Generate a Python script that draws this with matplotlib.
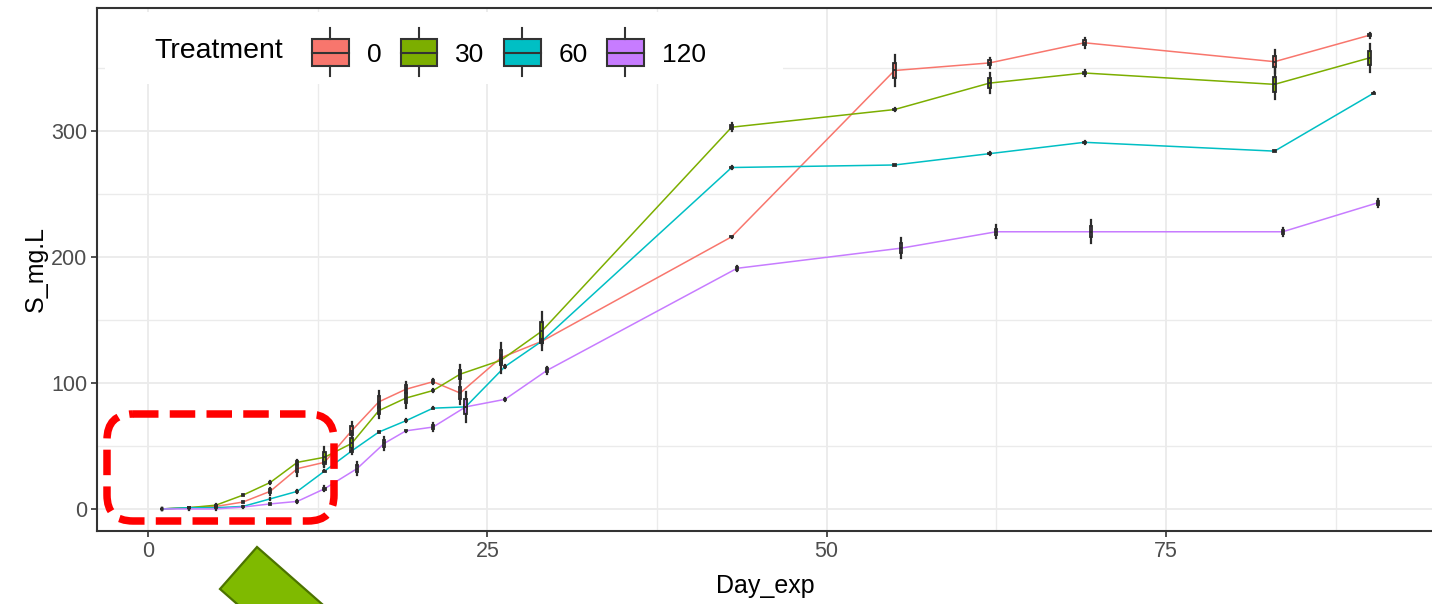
import numpy as np
import matplotlib.pyplot as plt
from matplotlib.patches import Rectangle, FancyBboxPatch, Polygon, Patch
from matplotlib.legend_handler import HandlerBase
from matplotlib.lines import Line2D
import matplotlib.transforms as mtransforms

plt.rcParams['font.family'] = ['Liberation Sans', 'DejaVu Sans']

# ── data ─────────────────────────────────────────────────────────────────────
treatments = ['0', '30', '60', '120']
colors = ['#F8766D', '#7CAE00', '#00BFC4', '#C77CFF']

day_0 = [1, 3, 5, 7, 9, 11, 13, 15, 17, 19, 21, 23, 26, 29, 43, 55, 62, 69, 83, 90]
day_30 = [1, 3, 5, 7, 9, 11, 13, 15, 17, 19, 21, 23, 26, 29, 43, 55, 62, 69, 83, 90]
day_60 = [1, 3, 5, 7, 9, 11, 13, 15, 17, 19, 21, 23.4, 26.3, 29, 43, 55, 62, 69, 83, 90.3]
day_120 = [1, 3, 5, 7, 9, 11, 13, 15.4, 17.4, 19, 21, 23.4, 26.3, 29.4, 43.4, 55.5, 62.5, 69.5, 83.6, 90.6]

s_0 = [0, 1, 2, 5.5, 14, 32, 37, 62, 85, 95, 101, 92, 120, 133, 216, 348, 354, 370, 355, 376]
s_30 = [0, 1, 3, 11, 21, 37, 41, 52, 78, 88, 94, 107, 118, 141, 303, 317, 338, 346, 337, 358]
s_60 = [0, 1, 1, 2, 8, 14, 30, 46, 61, 70, 80, 81, 113, 133, 271, 273, 282, 291, 284, 330]
s_120 = [0, 0, 0, 1.5, 4, 6, 16, 32, 52, 62, 65, 81, 87, 110, 191, 207, 220, 220, 220, 243]

# whisker half-range of each box
w_0 = [0.5, 0.8, 1, 1, 3, 6, 3, 7, 9, 6, 2, 9, 12, 3, 1, 12, 4, 4, 9, 2]
w_30 = [0.5, 0.8, 1, 1, 1, 2, 8, 8, 6, 8, 1, 7, 4, 15, 3, 1, 8, 2, 12, 11]
w_60 = [0.5, 0.5, 0.5, 0.5, 0.5, 1, 1, 1, 1, 1, 1, 3, 1, 2, 1, 1, 1, 1, 1, 1]
w_120 = [0.5, 0.5, 0.5, 0.5, 1, 1, 2, 5, 5, 1, 3, 12, 1, 3, 2, 8, 5, 9, 3, 3]

days = [day_0, day_30, day_60, day_120]
vals = [s_0, s_30, s_60, s_120]
spreads = [w_0, w_30, w_60, w_120]

W, H = 1432, 604
fig = plt.figure(figsize=(W / 100, H / 100), dpi=100)
# right border lies just outside the picture, as in the cropped original
ax = fig.add_axes([97 / W, 1 - 531 / H, (W + 2 - 97) / W, (531 - 8) / H])

# pixel (from top-left) -> figure transform for the overlays
px = mtransforms.Affine2D().scale(1 / W, -1 / H).translate(0, 1) + fig.transFigure

for d, v, w, c in zip(days, vals, spreads, colors):
    ax.plot(d, v, color=c, lw=1.1, zorder=2)
    stats = []
    for m, s in zip(v, w):
        stats.append(dict(med=m, q1=m - 0.5 * s, q3=m + 0.5 * s, whislo=m - s, whishi=m + s))
    ax.bxp(stats, positions=d, widths=0.17, showfliers=False, showcaps=False,
           patch_artist=True, manage_ticks=False,
           boxprops=dict(facecolor=c, edgecolor='#2B2B2B', linewidth=1.3),
           whiskerprops=dict(color='#2B2B2B', linewidth=1.6),
           medianprops=dict(color='#2B2B2B', linewidth=1.3), zorder=3)

ax.set_xlim(-3.76, 94.75)
ax.set_ylim(-17.5, 397.6)
ax.set_xticks([0, 25, 50, 75])
ax.set_xticks([12.5, 37.5, 62.5, 87.5], minor=True)
ax.set_yticks([0, 100, 200, 300])
ax.set_yticks([50, 150, 250, 350], minor=True)
ax.grid(which='major', color='#EBEBEB', lw=1.3, zorder=0)
ax.grid(which='minor', color='#EBEBEB', lw=1.0, zorder=0)
ax.set_axisbelow(True)
ax.tick_params(which='major', length=4, width=1.2, color='#333333',
               labelsize=15.5, labelcolor='#4D4D4D', pad=3)
ax.tick_params(which='minor', length=0)
for sp in ax.spines.values():
    sp.set_color('#333333')
    sp.set_linewidth(1.5)

ax.set_xlabel('Day_exp', fontsize=18)
ax.set_ylabel('S_mg.L', fontsize=18)
ax.xaxis.set_label_coords(0.5, -0.082)
ax.yaxis.set_label_coords(-0.037, 0.5)

# ── legend inside the top of the panel ──────────────────────────────────────
class BoxKey(HandlerBase):
    def create_artists(self, legend, orig_handle, xdescent, ydescent,
                       width, height, fontsize, trans):
        x0, y0 = -xdescent, -ydescent
        cx = x0 + width / 2
        rect = Rectangle((x0, y0), width, height, facecolor=orig_handle.get_facecolor(),
                         edgecolor='#333333', lw=1.5, transform=trans)
        mid = Line2D([x0, x0 + width], [y0 + height / 2] * 2, color='#333333', lw=1.5, transform=trans)
        top = Line2D([cx, cx], [y0 + height, y0 + height * 1.4], color='#333333', lw=1.5, transform=trans)
        bot = Line2D([cx, cx], [y0 - height * 0.36, y0], color='#333333', lw=1.5, transform=trans)
        return [rect, mid, top, bot]

bg = Rectangle((105, 12), 678, 72, transform=px, facecolor='white', edgecolor='none', zorder=1)
ax.add_artist(bg)
bg.set_clip_on(False)

fig.text(154 / W, 1 - 51 / H, 'Treatment', fontsize=20.5, va='center', ha='left')
handles = [Patch(facecolor=c) for c in colors]
leg = fig.legend(handles, treatments, handler_map={Patch: BoxKey()}, ncol=4,
                 loc='center left', bbox_to_anchor=(312 / W, 1 - 53 / H),
                 frameon=False, fontsize=19, borderpad=0, borderaxespad=0,
                 handlelength=1.4, handleheight=1.2, handletextpad=0.68,
                 columnspacing=0.72)

# ── red dashed rounded frame ────────────────────────────────────────────────
frame = FancyBboxPatch((107, 414), 227, 107, boxstyle='round,pad=0,rounding_size=26',
                       transform=px, facecolor='none', edgecolor='#FF0000', lw=5.4,
                       linestyle=(0, (3.4, 1.5)), zorder=10)
fig.patches.append(frame)

# ── green arrow piece at the bottom ─────────────────────────────────────────
arrow = Polygon([(257, 547), (220, 589), (318, 675), (355, 633)], closed=True,
                transform=px, facecolor='#7FBA00', edgecolor='#4C7300', lw=1.6, zorder=10)
fig.patches.append(arrow)

fig.savefig('out.png', dpi=100)
